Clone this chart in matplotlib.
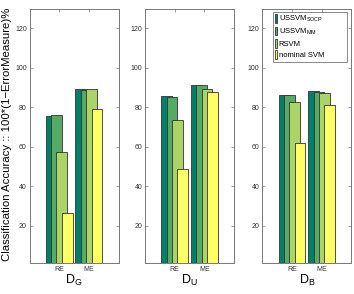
import matplotlib
matplotlib.use("Agg")
import matplotlib.pyplot as plt
import numpy as np

plt.rcParams['font.family'] = ['Liberation Sans', 'DejaVu Sans']
plt.rcParams['mathtext.fontset'] = 'custom'
plt.rcParams['mathtext.rm'] = 'Liberation Sans'
plt.rcParams['mathtext.it'] = 'Liberation Sans'

groups = ["RE", "ME"]
series = ["USSVM$_{\\mathrm{SOCP}}$", "USSVM$_{\\mathrm{MM}}$", "RSVM", "nominal SVM"]
panels = ["D$_{\\mathrm{G}}$", "D$_{\\mathrm{U}}$", "D$_{\\mathrm{B}}$"]
# values[panel][series] = [RE, ME]
vals_G = [[75.5, 89.1], [76.0, 88.8], [57.2, 89.0], [26.2, 79.0]]
vals_U = [[85.6, 91.3], [85.0, 91.0], [73.4, 89.3], [48.7, 87.8]]
vals_B = [[86.0, 88.1], [86.0, 87.8], [82.7, 87.1], [62.0, 81.2]]
all_vals = [vals_G, vals_U, vals_B]
colors = ["#008066", "#55aa66", "#aad466", "#ffff66"]

fig = plt.figure(figsize=(3.54, 2.94), dpi=100)
lefts = [29.5 / 354, 145 / 354, 262.3 / 354]
w = 89 / 354
bottom = 31 / 294
h = 254.5 / 294
x = np.arange(1, len(groups) + 1)
offsets = [-0.27, -0.09, 0.09, 0.27]
spine_c = "#777777"

for i, (l, vals, lab) in enumerate(zip(lefts, all_vals, panels)):
    ax = fig.add_axes([l, bottom, w, h])
    for j, (v, c) in enumerate(zip(vals, colors)):
        ax.bar(x + offsets[j], v, width=0.36, color=c, edgecolor="#333333",
               linewidth=0.6, label=series[j], zorder=2 + j)
    ax.set_xlim(0, 3)
    ax.set_ylim(1, 130)
    ax.set_yticks([20, 40, 60, 80, 100, 120])
    ax.set_xticks(x)
    ax.set_xticklabels(groups)
    ax.tick_params(direction="in", length=2.5, width=0.5, colors=spine_c,
                   labelcolor="#333333", labelsize=5, top=True, right=True, pad=2)
    for s in ax.spines.values():
        s.set_color(spine_c)
        s.set_linewidth(0.7)
    ax.set_xlabel(lab, fontsize=9, labelpad=0)
    if i == 0:
        ax.set_ylabel("Classification Accuracy :: 100*(1\u2212ErrorMeasure)%",
                      fontsize=8.2)
        ax.yaxis.set_label_coords(-0.195, 0.505)
    if i == 2:
        leg = ax.legend(loc="upper left", bbox_to_anchor=(0.117, 0.79, 0.838, 0.197),
                        mode="expand",
                        fontsize=5.5, handlelength=0.3, handleheight=1.4,
                        handletextpad=0.2, labelspacing=0.3, borderpad=0.3,
                        frameon=True, fancybox=False, borderaxespad=0)
        leg.get_frame().set_edgecolor("#555555")
        leg.get_frame().set_linewidth(0.6)

fig.savefig("out.png", dpi=100)
